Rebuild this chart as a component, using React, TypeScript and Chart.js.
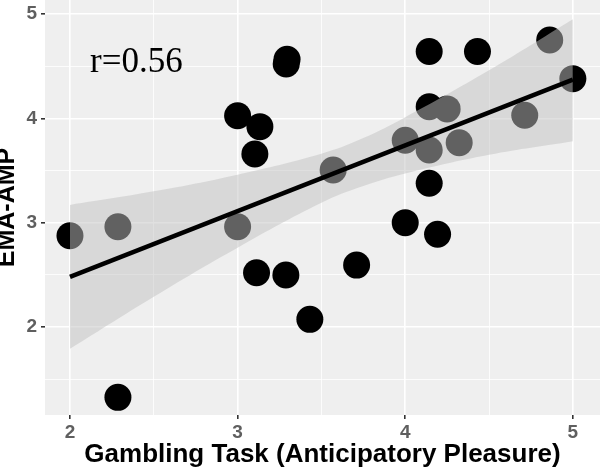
import React, { useEffect, useRef } from "react";
import { Chart, registerables } from "chart.js";

Chart.register(...registerables);

// Scatter data: Gambling Task (Anticipatory Pleasure) vs EMA-AMP
const pointX = [2.0, 2.286, 2.286, 3.29, 3.295, 3.0, 3.133, 3.103, 3.57, 3.0, 3.113, 3.288, 3.431, 3.71, 4.0, 4.193, 4.143, 4.431, 4.862, 5.0, 4.143, 4.25, 4.713, 4.0, 4.143, 4.322, 4.143];
const pointY = [2.874, 2.96, 1.325, 4.52, 4.565, 4.025, 3.92, 3.658, 3.504, 2.96, 2.52, 2.498, 2.073, 2.593, 3.0, 2.888, 4.64, 4.64, 4.75, 4.38, 4.11, 4.09, 4.03, 3.79, 3.696, 3.766, 3.377];

// Linear fit line
const fitX = [2, 5];
const fitY = [2.48, 4.37];

// Confidence band
const bandX = [2, 2.5, 3, 3.5, 3.75, 4, 4.5, 5];
const bandLower = [1.79, 2.29, 2.76, 3.19, 3.35, 3.47, 3.65, 3.78];
const bandUpper = [3.17, 3.3, 3.46, 3.66, 3.81, 4.01, 4.46, 4.95];

// Axes
const xTicks = [2, 2.5, 3, 3.5, 4, 4.5, 5];
const yTicks = [1.5, 2, 2.5, 3, 3.5, 4, 4.5, 5];
const xRange = [1.851, 5.162];
const yRange = [1.156, 5.134];

const xTitle = "Gambling Task (Anticipatory Pleasure)";
const yTitle = "EMA-AMP";
const annotationText = "r=0.56";
const annotationPos = [2.12, 4.444];

const isMajor = (v: number) => Math.abs(v - Math.round(v)) < 1e-6;

export default function App() {
  const ref = useRef<HTMLCanvasElement | null>(null);

  useEffect(() => {
    if (!ref.current) return;

    const bgPlugin = {
      id: "panelBg",
      beforeDraw(chart: any) {
        const { ctx, chartArea } = chart;
        ctx.save();
        ctx.fillStyle = "#efefef";
        ctx.fillRect(chartArea.left, chartArea.top, chartArea.right - chartArea.left, chartArea.bottom - chartArea.top);
        ctx.restore();
      },
      afterDraw(chart: any) {
        const { ctx, scales } = chart;
        ctx.save();
        ctx.fillStyle = "#000000";
        ctx.font = '35px "Liberation Serif"';
        ctx.textAlign = "left";
        ctx.textBaseline = "alphabetic";
        ctx.fillText(
          annotationText,
          scales.x.getPixelForValue(annotationPos[0]),
          scales.y.getPixelForValue(annotationPos[1])
        );
        ctx.restore();
      },
    };

    const gridOpts = {
      color: "#ffffff",
      lineWidth: (c: any) => (c.tick && isMajor(c.tick.value) ? 1.6 : 0.8),
      tickColor: (c: any) => (c.tick && isMajor(c.tick.value) ? "#333333" : "rgba(0,0,0,0)"),
      tickLength: 4,
      drawOnChartArea: true,
      z: 0,
    };

    const zeroPad = (s: any) => {
      s.paddingTop = 0;
      s.paddingBottom = 0;
      s.paddingLeft = 0;
      s.paddingRight = 0;
    };

    const chart = new Chart(ref.current, {
      type: "line",
      data: {
        datasets: [
          {
            label: "points",
            data: pointX.map((x, i) => ({ x, y: pointY[i] })),
            showLine: false,
            pointRadius: 13.5,
            pointBackgroundColor: "#000000",
            pointBorderWidth: 0,
            pointBorderColor: "rgba(0,0,0,0)",
            order: 3,
          },
          {
            label: "upper",
            data: bandX.map((x, i) => ({ x, y: bandUpper[i] })),
            showLine: true,
            borderWidth: 0,
            borderColor: "rgba(0,0,0,0)",
            pointRadius: 0,
            tension: 0.4,
            fill: { target: "+1" },
            backgroundColor: "rgba(194,194,194,0.5)",
            order: 2,
          },
          {
            label: "lower",
            data: bandX.map((x, i) => ({ x, y: bandLower[i] })),
            showLine: true,
            borderWidth: 0,
            borderColor: "rgba(0,0,0,0)",
            pointRadius: 0,
            tension: 0.4,
            fill: false,
            order: 2,
          },
          {
            label: "fit",
            data: fitX.map((x, i) => ({ x, y: fitY[i] })),
            showLine: true,
            borderColor: "#000000",
            borderWidth: 4.5,
            pointRadius: 0,
            fill: false,
            order: 1,
          },
        ],
      },
      options: {
        responsive: false,
        animation: false,
        layout: { padding: 0, autoPadding: false },
        plugins: {
          legend: { display: false },
          tooltip: { enabled: false },
        },
        scales: {
          x: {
            type: "linear",
            min: xRange[0],
            max: xRange[1],
            afterBuildTicks: (s: any) => {
              s.ticks = xTicks.map((v) => ({ value: v }));
            },
            afterFit: (s: any) => {
              s.height = 56;
              zeroPad(s);
            },
            border: { display: false },
            grid: gridOpts,
            ticks: {
              autoSkip: false,
              maxRotation: 0,
              padding: 2,
              color: "#5f5f5f",
              font: { family: "Liberation Sans", size: 19, weight: "bold" },
              callback: (v: any) => (isMajor(Number(v)) ? String(Math.round(Number(v))) : ""),
            },
            title: {
              display: true,
              text: xTitle,
              color: "#000000",
              font: { family: "Liberation Sans", size: 26, weight: "bold", lineHeight: 1 },
              padding: { top: 0, bottom: 3 },
            },
          },
          y: {
            type: "linear",
            min: yRange[0],
            max: yRange[1],
            afterBuildTicks: (s: any) => {
              s.ticks = yTicks.map((v) => ({ value: v }));
            },
            afterFit: (s: any) => {
              s.width = 45;
              zeroPad(s);
            },
            border: { display: false },
            grid: gridOpts,
            ticks: {
              autoSkip: false,
              padding: 4,
              color: "#5f5f5f",
              font: { family: "Liberation Sans", size: 19, weight: "bold" },
              callback: (v: any) => (isMajor(Number(v)) ? String(Math.round(Number(v))) : ""),
            },
            title: {
              display: true,
              text: yTitle,
              color: "#000000",
              font: { family: "Liberation Sans", size: 25, weight: "bold", lineHeight: 1 },
              padding: { top: -5, bottom: 0 },
            },
          },
        },
      },
      plugins: [bgPlugin],
    } as any);

    return () => chart.destroy();
  }, []);

  return (
    <div style={{ position: "fixed", left: 0, top: 0, width: 600, height: 471, background: "#ffffff" }}>
      <canvas ref={ref} width={600} height={471} style={{ width: 600, height: 471, display: "block" }} />
    </div>
  );
}
